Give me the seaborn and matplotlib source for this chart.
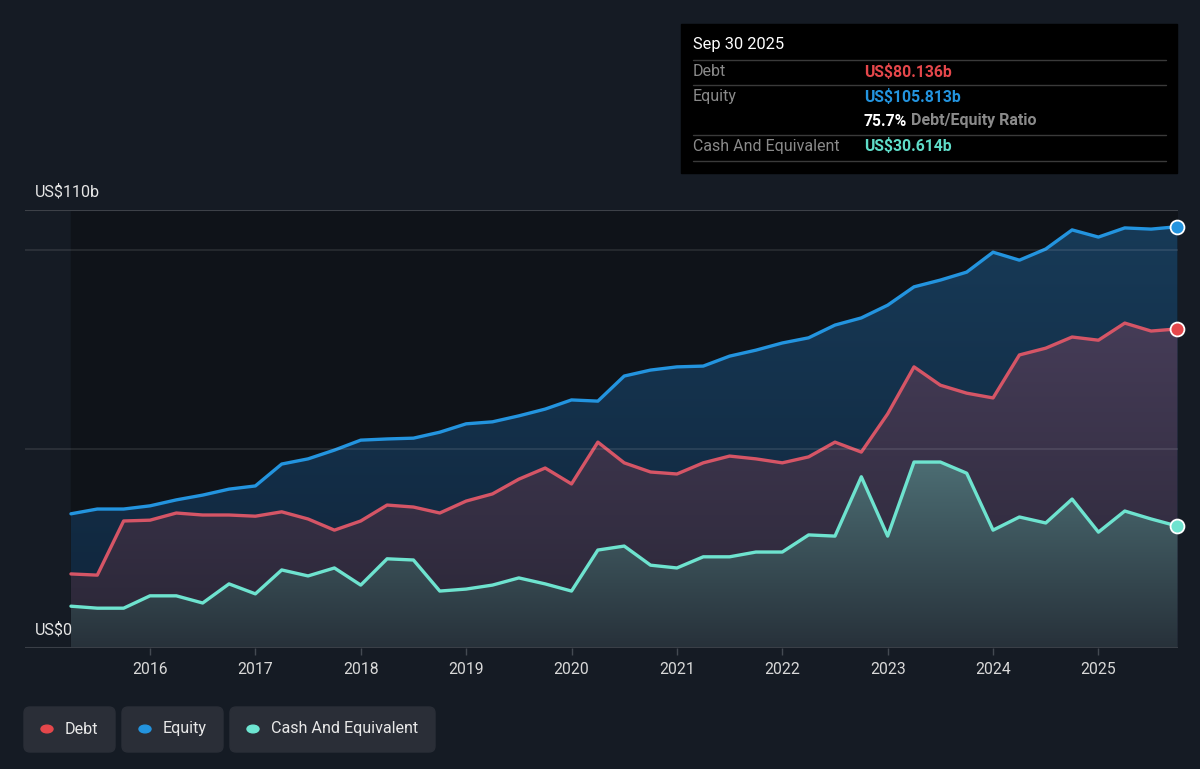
import numpy as np
import pandas as pd
import matplotlib
matplotlib.use("Agg")
import matplotlib.pyplot as plt
import seaborn as sns
from matplotlib.colors import LinearSegmentedColormap
from matplotlib.patches import Rectangle, FancyBboxPatch, Circle
from matplotlib.lines import Line2D

# Quarterly values, US$ billions (Mar 2015 .. Sep 2025)
quarters = pd.period_range("2015Q1", "2025Q3", freq="Q")
equity = [33.7, 34.9, 34.9, 35.7, 37.2, 38.4, 39.9, 40.7, 46.2, 47.5,
          49.7, 52.2, 52.5, 52.7, 54.2, 56.3, 56.8, 58.3, 60.0, 62.3,
          62.0, 68.3, 69.8, 70.6, 70.8, 73.3, 74.8, 76.6, 77.9, 81.1,
          82.9, 86.1, 90.7, 92.4, 94.4, 99.4, 97.4, 100.2, 105.0, 103.2,
          105.5, 105.2, 105.813]
debt = [18.6, 18.3, 31.9, 32.1, 33.9, 33.4, 33.4, 33.1, 34.2, 32.4,
        29.6, 31.9, 35.9, 35.4, 33.9, 36.9, 38.7, 42.4, 45.2, 41.2,
        51.7, 46.5, 44.2, 43.7, 46.5, 48.2, 47.5, 46.5, 48.0, 51.7,
        49.2, 58.8, 70.6, 66.0, 64.0, 62.8, 73.6, 75.3, 78.1, 77.3,
        81.6, 79.6, 80.136]
cash = [10.5, 10.0, 10.0, 13.1, 13.1, 11.3, 16.1, 13.6, 19.6, 18.1,
        20.1, 15.8, 22.4, 22.1, 14.3, 14.8, 15.8, 17.6, 16.1, 14.3,
        24.6, 25.6, 20.8, 20.1, 22.9, 22.9, 24.1, 24.1, 28.4, 28.1,
        43.0, 28.1, 46.7, 46.7, 43.9, 29.6, 32.9, 31.4, 37.4, 29.1,
        34.4, 32.4, 30.614]
years = list(range(2016, 2026))

# decimal-year position of each quarter end
t = np.array([q.year + q.quarter / 4 for q in quarters])
df = pd.DataFrame({"t": t, "Equity": equity, "Debt": debt, "Cash": cash})

BG = "#151b24"
PLOT_BG = "#0f1319"
C_EQ, C_DEBT, C_CASH = "#2394df", "#d55566", "#6ee3cf"

sns.set_style("dark", {"axes.facecolor": BG, "figure.facecolor": BG})
plt.rcParams["font.family"] = ["Roboto", "DejaVu Sans"]

W, H = 1200, 769
fig = plt.figure(figsize=(W / 100, H / 100), dpi=100)
fig.patch.set_facecolor(BG)
ax = fig.add_axes([25 / W, 1 - 648 / H, (1178 - 25) / W, (648 - 210) / H])
ax.set_facecolor(BG)

x0, x1 = 2014.814, 2025.755
ax.axvspan(df.t.iloc[0], df.t.iloc[-1], color=PLOT_BG, zorder=0)


def grad_fill(y, top, bottom, z):
    poly = ax.fill_between(df.t, 0, y, facecolor="none", edgecolor="none", zorder=z)
    cmap = LinearSegmentedColormap.from_list("g", [top, bottom])
    im = ax.imshow(np.linspace(0, 1, 256).reshape(-1, 1), cmap=cmap, aspect="auto",
                   extent=[df.t.iloc[0], df.t.iloc[-1], 0, max(y)], zorder=z,
                   interpolation="bilinear")
    im.set_clip_path(poly.get_paths()[0], transform=ax.transData)


grad_fill(df.Equity, "#173a57", "#10243a", 1)
grad_fill(df.Debt, "#453c57", "#2a2636", 2)
grad_fill(df.Cash, "#4c6d73", "#27313a", 3)

for col, c in [("Equity", C_EQ), ("Debt", C_DEBT), ("Cash", C_CASH)]:
    sns.lineplot(data=df, x="t", y=col, color=c, linewidth=2.4, ax=ax, zorder=5,
                 solid_joinstyle="round", solid_capstyle="round")

for col, c in [("Equity", "#2394df"), ("Debt", "#e5474b"), ("Cash", C_CASH)]:
    ax.plot(df.t.iloc[-1], df[col].iloc[-1], "o", ms=10, mfc=c, mec="white",
            mew=1.3, zorder=7, clip_on=False)

# grid lines
ax.axhline(110, color="#3d4148", lw=1.5, zorder=6)
for v in (50, 100):
    ax.axhline(v, color="white", alpha=0.09, lw=1.5, zorder=6)
ax.axhline(0, color="#3a3f47", lw=1.5, zorder=6)

ax.set_xlim(x0, x1)
ax.set_ylim(0, 110)
ax.set_xticks(years)
ax.set_xticklabels([str(y) for y in years])
ax.set_yticks([])
ax.tick_params(axis="x", colors="#444a52", length=5, width=1, pad=5,
               labelcolor="#d9d9d9", labelsize=11.3, bottom=True)
ax.set_xlabel("")
ax.set_ylabel("")
for s in ax.spines.values():
    s.set_visible(False)
ax.grid(False)


def fx(px):
    return px / W


def fy(py):
    return 1 - py / H


fig.text(fx(35), fy(192), "US$110b", color="#e6e6e6", fontsize=11.6, va="center")
fig.text(fx(35), fy(630), "US$0", color="#e6e6e6", fontsize=11.6, va="center")

# tooltip box
fig.patches.append(Rectangle((fx(681), fy(173)), (1177 - 681) / W, 149 / H,
                             transform=fig.transFigure, color="black", zorder=0))
fig.text(fx(693), fy(45), "Sep 30 2025", color="white", fontsize=11.8, va="center")
for py in (60, 85, 135, 161):
    fig.add_artist(Line2D([fx(693), fx(1166)], [fy(py), fy(py)], color="#3a3a3a",
                          lw=1, transform=fig.transFigure))
GRAY = "#8a8a8a"
rows = [(72, "Debt", "US$80.136b", "#e5474b"),
        (97, "Equity", "US$105.813b", "#2394df"),
        (146, "Cash And Equivalent", "US$30.614b", "#5fdcc8")]
for py, lab, val, c in rows:
    fig.text(fx(693), fy(py), lab, color=GRAY, fontsize=11.5, va="center")
    fig.text(fx(864), fy(py), val, color=c, fontsize=11.3, va="center", fontweight="bold")
fig.text(fx(864), fy(121), "75.7%", color="white", fontsize=11.3, va="center",
         fontweight="bold")
fig.text(fx(911), fy(121), "Debt/Equity Ratio", color=GRAY, fontsize=11.5,
         va="center", fontweight="bold")

# legend chips
chips = [(24, 115, "Debt", "#e5474b"), (122, 223, "Equity", "#2394df"),
         (230, 435, "Cash And Equivalent", "#6ee6d2")]
for xa, xb, lab, c in chips:
    fig.patches.append(FancyBboxPatch((fx(xa), fy(752)), (xb - xa) / W, 45 / H,
                                      boxstyle="round,pad=0,rounding_size=0.005",
                                      transform=fig.transFigure, color="#2a2e37",
                                      mutation_aspect=W / H))
    fig.patches.append(Circle((fx(xa + 23), fy(729)), 6 / W, transform=fig.transFigure,
                              color=c))
    fig.text(fx(xa + 41), fy(729), lab, color="#e8e8e8", fontsize=11.6, va="center")

fig.savefig("out.png", dpi=100, facecolor=BG)
